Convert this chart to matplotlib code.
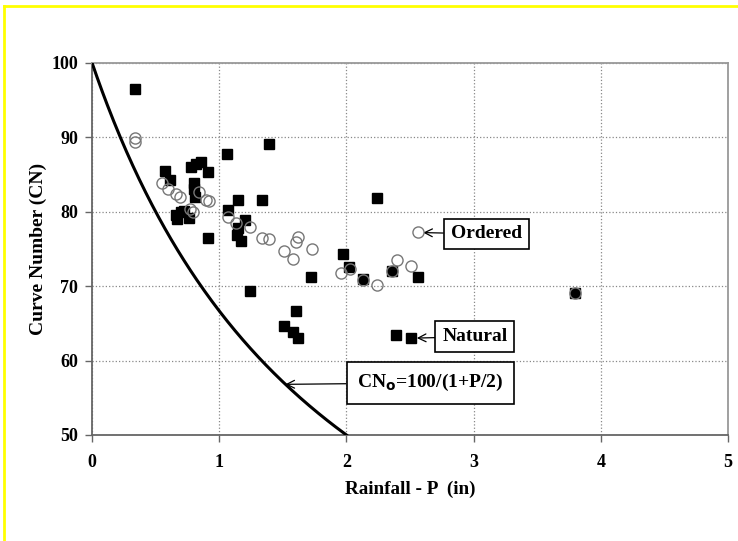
import matplotlib
matplotlib.use('Agg')
import matplotlib.pyplot as plt
from matplotlib.lines import Line2D
import numpy as np

# natural (filled squares)
nat_p = [0.34, 1.39, 1.06, 0.57, 0.78, 0.82, 0.86, 0.91, 0.61, 0.80, 0.80, 0.81,
         1.15, 1.34, 1.07, 0.66, 0.70, 0.72, 0.67, 0.76, 1.20, 1.15, 1.14, 1.17,
         0.91, 1.24, 1.72, 1.97, 2.02, 2.13, 2.36, 2.56, 2.24, 1.60, 1.51, 1.58,
         1.62, 2.39, 2.51, 3.80]
nat_cn = [96.5, 89.1, 87.7, 85.5, 86.0, 86.4, 86.7, 85.3, 84.2, 83.8, 83.0, 82.0,
          81.6, 81.6, 80.2, 79.6, 79.9, 80.1, 79.0, 79.1, 78.9, 77.8, 76.9, 76.1,
          76.4, 69.4, 71.2, 74.3, 72.6, 70.9, 72.0, 71.2, 81.8, 66.7, 64.6, 63.8,
          63.0, 63.4, 63.0, 69.1]

# ordered (open circles)
ord_p = [0.34, 0.34, 0.55, 0.60, 0.66, 0.69, 0.84, 0.90, 0.92, 0.77, 0.79, 1.07,
         1.13, 1.24, 1.34, 1.39, 1.51, 1.58, 1.60, 1.62, 1.73, 1.96, 2.03, 2.13,
         2.24, 2.36, 2.40, 2.51, 2.56, 3.80]
ord_cn = [89.9, 89.4, 83.9, 83.1, 82.4, 82.0, 82.6, 81.6, 81.4, 80.4, 80.0, 79.3,
          78.5, 78.0, 76.5, 76.3, 74.7, 73.6, 75.9, 76.6, 75.0, 71.8, 72.3, 70.8,
          70.2, 72.0, 73.5, 72.7, 77.2, 69.1]

plt.rcParams['font.family'] = 'Liberation Serif'
plt.rcParams['font.weight'] = 'bold'

fig = plt.figure(figsize=(7.38, 5.41), dpi=100)
ax = fig.add_axes([0.1247, 0.196, 0.8617, 0.688])

# CN0 = 100/(1+P/2)
p = np.linspace(0, 2, 200)
ax.plot(p, 100 / (1 + p / 2), color='black', lw=2.2, zorder=3)

ax.plot(nat_p, nat_cn, 's', color='black', ms=6.5, zorder=4)
ax.plot(ord_p, ord_cn, 'o', mfc='none', mec='#777777', mew=1.0, ms=8, zorder=5)

ax.set_xlim(0, 5)
ax.set_ylim(50, 100)
ax.set_xticks(range(0, 6))
ax.set_yticks(range(50, 101, 10))
ax.grid(True, color='#888888', ls=':', lw=0.9)
ax.set_axisbelow(True)

for s in ax.spines.values():
    s.set_color('#999999')
    s.set_linewidth(1.3)
ax.spines['bottom'].set_color('#666666')
ax.spines['left'].set_color('#666666')

ax.tick_params(axis='both', direction='out', length=5, width=1, color='#666666',
               labelsize=13)
ax.tick_params(axis='x', pad=9)
ax.tick_params(axis='y', pad=5)

ax.set_xlabel('Rainfall - P  (in)', fontsize=13.8, fontweight='bold', labelpad=7)
ax.set_ylabel('Curve Number (CN)', fontsize=14, fontweight='bold', labelpad=3)

box = dict(boxstyle='square,pad=0.35', fc='white', ec='black', lw=1.2)
arr = dict(arrowstyle='->', color='black', lw=0.9, shrinkA=0, shrinkB=4)

ax.annotate('Ordered', xy=(2.56, 77.2), xytext=(3.10, 77.0), fontsize=14,
            fontweight='bold', ha='center', va='center', bbox=box, arrowprops=arr)
ax.annotate('Natural', xy=(2.51, 63.0), xytext=(3.01, 63.2), fontsize=14,
            fontweight='bold', ha='center', va='center', bbox=box, arrowprops=arr)
ax.annotate('CN$_\\mathbf{o}$=100/(1+P/2)', xy=(1.52, 56.8), xytext=(2.66, 57.0),
            fontsize=14, fontweight='bold', ha='center', va='center',
            bbox=dict(boxstyle='square,pad=0.55', fc='white', ec='black', lw=1.2),
            arrowprops=dict(arrowstyle='->', color='black', lw=0.9, shrinkA=0, shrinkB=0))

# yellow slide border (top and left)
fig.add_artist(Line2D([0.005, 1.0], [0.989, 0.989], color='yellow', lw=2,
                      transform=fig.transFigure))
fig.add_artist(Line2D([0.005, 0.005], [0.0, 0.989], color='yellow', lw=2,
                      transform=fig.transFigure))

fig.savefig('out.png', dpi=100)
